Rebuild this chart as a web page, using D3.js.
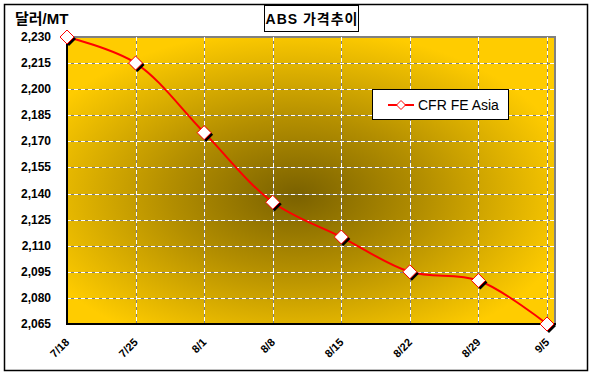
<!DOCTYPE html>
<html>
<head>
<meta charset="utf-8">
<script src="https://cdn.jsdelivr.net/npm/d3@7"></script>
<style>
  body { margin: 0; background: #fff; }
  text { font-family: "Liberation Sans", Arial, "Noto Sans CJK KR", sans-serif; }
</style>
</head>
<body>
<svg id="chart" width="594" height="380"></svg>
<script>
const dates = ["7/18", "7/25", "8/1", "8/8", "8/15", "8/22", "8/29", "9/5"]
const cfrFeAsia = [2230, 2215, 2175, 2135, 2115, 2095, 2090, 2065]
const yTicks = [2065, 2080, 2095, 2110, 2125, 2140, 2155, 2170, 2185, 2200, 2215, 2230]

const dims = {
  width: 594,
  height: 380,
  plot: {left: 67, right: 555, top: 37, bottom: 324},
  lastX: 547
}

const svg = d3.select("#chart")
const defs = svg.append("defs")

const grad = defs.append("radialGradient")
  .attr("id", "bg")
  .attr("cx", 0.47).attr("cy", 0.55).attr("r", 0.58)
  .attr("fx", 0.47).attr("fy", 0.55)
grad.append("stop").attr("offset", 0).attr("stop-color", "#7a6100")
grad.append("stop").attr("offset", 0.45).attr("stop-color", "#b38e00")
grad.append("stop").attr("offset", 1).attr("stop-color", "#ffcc00")

// outer frame
svg.append("rect")
  .attr("x", 4.5).attr("y", 4.5)
  .attr("width", 583).attr("height", 366)
  .attr("fill", "#fff").attr("stroke", "#000").attr("stroke-width", 1.5)

const x = d3.scalePoint()
  .domain(dates)
  .range([dims.plot.left, dims.lastX])

const y = d3.scaleLinear()
  .domain([2065, 2230])
  .range([dims.plot.bottom, dims.plot.top])

const p = dims.plot

// plot area with gray top/right border
svg.append("rect")
  .attr("x", p.left).attr("y", p.top)
  .attr("width", p.right - p.left).attr("height", p.bottom - p.top)
  .attr("fill", "url(#bg)")
  .attr("stroke", "#808080").attr("stroke-width", 2)

// grid: gray base with white dashes on top
const grid = svg.append("g")
const hLines = yTicks.filter(d => d !== 2065 && d !== 2230)
const vLines = dates.slice(1)

;[["#808080", null], ["#ffffff", "4,3"]].forEach(([col, dash]) => {
  grid.selectAll(null)
    .data(hLines)
    .join("line")
      .attr("x1", p.left).attr("x2", p.right)
      .attr("y1", d => Math.round(y(d)) + 0.5).attr("y2", d => Math.round(y(d)) + 0.5)
      .attr("stroke", col).attr("stroke-dasharray", dash)
  grid.selectAll(null)
    .data(vLines)
    .join("line")
      .attr("x1", d => Math.round(x(d)) + 0.5).attr("x2", d => Math.round(x(d)) + 0.5)
      .attr("y1", p.top).attr("y2", p.bottom)
      .attr("stroke", col).attr("stroke-dasharray", dash)
})

// axes lines (black left + bottom)
svg.append("line")
  .attr("x1", p.left).attr("x2", p.left).attr("y1", p.top).attr("y2", p.bottom + 1)
  .attr("stroke", "#000").attr("stroke-width", 2)
svg.append("line")
  .attr("x1", p.left - 1).attr("x2", p.right + 1).attr("y1", p.bottom).attr("y2", p.bottom)
  .attr("stroke", "#000").attr("stroke-width", 2)

// y tick labels
svg.append("g")
  .selectAll("text")
  .data(yTicks)
  .join("text")
    .attr("x", 51)
    .attr("y", d => y(d) + 4)
    .attr("text-anchor", "end")
    .attr("font-size", 12).attr("font-weight", "bold")
    .text(d => d3.format(",")(d))

// x tick labels rotated
svg.append("g")
  .selectAll("text")
  .data(dates)
  .join("text")
    .attr("transform", d => `translate(${x(d) + 3},${p.bottom + 19}) rotate(-45)`)
    .attr("text-anchor", "end")
    .attr("font-size", 11).attr("font-weight", "bold")
    .text(d => d)

// y title
svg.append("text")
  .attr("x", 15).attr("y", 24)
  .attr("font-size", 15).attr("font-weight", "bold")
  .text("달러/MT")

// title box
svg.append("rect")
  .attr("x", 264.5).attr("y", 5.5).attr("width", 94).attr("height", 26)
  .attr("fill", "#fff").attr("stroke", "#000")
svg.append("text")
  .attr("x", 312).attr("y", 24)
  .attr("text-anchor", "middle")
  .attr("font-size", 14).attr("font-weight", "bold")
  .attr("letter-spacing", 1)
  .text("ABS 가격추이")

// series line
const line = d3.line()
  .x((d, i) => x(dates[i]))
  .y(d => y(d))
  .curve(d3.curveCatmullRom.alpha(0.5))

svg.append("path")
  .datum(cfrFeAsia)
  .attr("d", line)
  .attr("fill", "none")
  .attr("stroke", "#ff0000").attr("stroke-width", 2)

const diamond = (cx, cy, r) => `M${cx},${cy - r}L${cx + r},${cy}L${cx},${cy + r}L${cx - r},${cy}Z`

const markers = svg.append("g")
markers.selectAll(".shadow")
  .data(cfrFeAsia)
  .join("path")
    .attr("class", "shadow")
    .attr("d", (d, i) => diamond(x(dates[i]) + 2, y(d) + 2, 7))
    .attr("fill", "#000")
markers.selectAll(".mark")
  .data(cfrFeAsia)
  .join("path")
    .attr("class", "mark")
    .attr("d", (d, i) => diamond(x(dates[i]), y(d), 7))
    .attr("fill", "#fff").attr("stroke", "#ff0000").attr("stroke-width", 1)

// legend
const legend = svg.append("g")
legend.append("rect")
  .attr("x", 372.5).attr("y", 89.5).attr("width", 136).attr("height", 30)
  .attr("fill", "#fff").attr("stroke", "#000")
legend.append("line")
  .attr("x1", 388).attr("x2", 414).attr("y1", 105).attr("y2", 105)
  .attr("stroke", "#ff0000").attr("stroke-width", 2)
legend.append("path")
  .attr("d", diamond(401, 105, 4.5))
  .attr("fill", "#fff").attr("stroke", "#ff0000")
legend.append("text")
  .attr("x", 418).attr("y", 110)
  .attr("font-size", 14)
  .text("CFR FE Asia")
</script>
</body>
</html>
